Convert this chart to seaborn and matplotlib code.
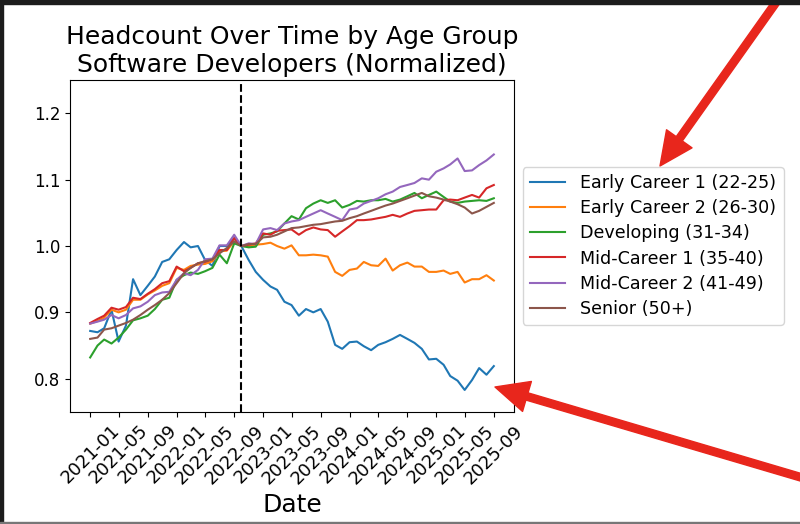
import numpy as np
import pandas as pd
import seaborn as sns
import matplotlib.pyplot as plt
import matplotlib.dates as mdates
from matplotlib.patches import Rectangle

# monthly headcount, normalized to 2022-10
dates = pd.date_range("2021-01-01", periods=57, freq="MS")
cutoff = "2022-10-01"

groups = [
    "Early Career 1 (22-25)",
    "Early Career 2 (26-30)",
    "Developing (31-34)",
    "Mid-Career 1 (35-40)",
    "Mid-Career 2 (41-49)",
    "Senior (50+)",
]

early1 = [0.872, 0.870, 0.876, 0.904, 0.856, 0.880, 0.950, 0.926, 0.940, 0.954, 0.976,
          0.980, 0.994, 1.006, 0.998, 1.000, 0.979, 0.970, 1.000, 1.000, 1.012, 1.000,
          0.979, 0.961, 0.949, 0.939, 0.934, 0.916, 0.911, 0.895, 0.905, 0.900, 0.905,
          0.886, 0.851, 0.845, 0.855, 0.856, 0.849, 0.843, 0.851, 0.855, 0.860, 0.866,
          0.860, 0.854, 0.845, 0.829, 0.830, 0.821, 0.804, 0.797, 0.783, 0.798, 0.816,
          0.806, 0.819]
early2 = [0.883, 0.887, 0.892, 0.904, 0.900, 0.904, 0.919, 0.919, 0.927, 0.933, 0.940,
          0.944, 0.967, 0.964, 0.970, 0.972, 0.973, 0.977, 0.992, 0.993, 1.007, 1.000,
          1.000, 1.002, 1.003, 1.005, 1.000, 0.996, 1.001, 0.986, 0.986, 0.987, 0.986,
          0.984, 0.961, 0.955, 0.964, 0.966, 0.976, 0.971, 0.970, 0.981, 0.963, 0.971,
          0.975, 0.969, 0.969, 0.961, 0.961, 0.963, 0.958, 0.961, 0.945, 0.950, 0.950,
          0.956, 0.948]
developing = [0.832, 0.850, 0.859, 0.853, 0.862, 0.874, 0.888, 0.891, 0.895, 0.905, 0.919,
              0.922, 0.949, 0.956, 0.960, 0.958, 0.962, 0.967, 0.987, 0.974, 1.004, 1.000,
              0.998, 0.999, 1.017, 1.019, 1.022, 1.034, 1.045, 1.040, 1.057, 1.064, 1.069,
              1.065, 1.069, 1.058, 1.062, 1.068, 1.067, 1.069, 1.069, 1.071, 1.067, 1.070,
              1.075, 1.080, 1.072, 1.077, 1.082, 1.074, 1.067, 1.065, 1.067, 1.068, 1.069,
              1.068, 1.072]
mid1 = [0.884, 0.890, 0.895, 0.907, 0.904, 0.908, 0.922, 0.920, 0.928, 0.935, 0.944,
        0.947, 0.969, 0.962, 0.967, 0.974, 0.976, 0.980, 0.994, 0.994, 1.012, 1.000,
        1.002, 1.004, 1.019, 1.017, 1.023, 1.024, 1.025, 1.017, 1.024, 1.028, 1.025,
        1.024, 1.014, 1.022, 1.030, 1.039, 1.039, 1.040, 1.042, 1.044, 1.047, 1.044,
        1.049, 1.053, 1.054, 1.055, 1.055, 1.069, 1.070, 1.069, 1.073, 1.077, 1.073,
        1.087, 1.092]
mid2 = [0.883, 0.886, 0.889, 0.896, 0.891, 0.896, 0.906, 0.909, 0.916, 0.926, 0.930,
        0.931, 0.949, 0.959, 0.956, 0.964, 0.980, 0.981, 1.001, 1.001, 1.017, 1.000,
        1.004, 1.003, 1.025, 1.027, 1.024, 1.034, 1.037, 1.039, 1.044, 1.049, 1.054,
        1.049, 1.044, 1.039, 1.055, 1.057, 1.064, 1.068, 1.072, 1.078, 1.082, 1.089,
        1.092, 1.095, 1.102, 1.100, 1.112, 1.117, 1.123, 1.132, 1.113, 1.114, 1.122,
        1.129, 1.138]
senior = [0.860, 0.862, 0.874, 0.876, 0.880, 0.884, 0.889, 0.896, 0.904, 0.911, 0.919,
          0.929, 0.944, 0.959, 0.967, 0.974, 0.977, 0.980, 0.989, 0.997, 1.007, 1.000,
          1.003, 1.003, 1.013, 1.014, 1.017, 1.022, 1.027, 1.028, 1.030, 1.032, 1.033,
          1.035, 1.037, 1.038, 1.042, 1.045, 1.049, 1.053, 1.057, 1.061, 1.064, 1.068,
          1.072, 1.076, 1.080, 1.075, 1.073, 1.070, 1.067, 1.063, 1.058, 1.049, 1.053,
          1.059, 1.065]

series = [early1, early2, developing, mid1, mid2, senior]
df = pd.concat(
    [pd.DataFrame({"date": dates, "value": vals, "group": g}) for g, vals in zip(groups, series)],
    ignore_index=True,
)

fig = plt.figure(figsize=(8, 5.24), dpi=100)
ax = fig.add_axes([0.0875, 0.214, 0.555, 0.633])

sns.lineplot(data=df, x="date", y="value", hue="group", hue_order=groups,
             palette="tab10", linewidth=1.5, ax=ax)
ax.axvline(pd.Timestamp(cutoff), color="black", linestyle="--", linewidth=1.5)

ax.set_ylim(0.75, 1.25)
ax.set_yticks([0.8, 0.9, 1.0, 1.1, 1.2])
ax.xaxis.set_major_locator(mdates.MonthLocator(bymonth=[1, 5, 9]))
ax.xaxis.set_major_formatter(mdates.DateFormatter("%Y-%m"))
ax.tick_params(axis="x", labelsize=13, rotation=45)
ax.tick_params(axis="y", labelsize=12)
ax.set_xlabel("Date", fontsize=18)
ax.set_ylabel("")
ax.set_title("Headcount Over Time by Age Group\nSoftware Developers (Normalized)", fontsize=18)

sns.move_legend(ax, "center left", bbox_to_anchor=(1.0, 0.5), title=None,
                fontsize=12.6, labelspacing=0.41, handletextpad=0.9)

# red annotation arrows over the whole picture
arrow = dict(arrowstyle="simple,head_length=0.8,head_width=0.75,tail_width=0.18",
             color="#e8261c", mutation_scale=30, shrinkA=0, shrinkB=0)
ax.annotate("", xy=(660, 524 - 166), xytext=(782, 530), xycoords="figure pixels",
            textcoords="figure pixels", arrowprops=arrow, annotation_clip=False)
ax.annotate("", xy=(495, 524 - 387), xytext=(810, 524 - 480), xycoords="figure pixels",
            textcoords="figure pixels", arrowprops=arrow, annotation_clip=False)

# screenshot frame
fig.patches.append(Rectangle((0, 1 - 4 / 524), 1, 4 / 524, transform=fig.transFigure, color="#1c1c1c"))
fig.patches.append(Rectangle((0, 0), 3 / 800, 1, transform=fig.transFigure, color="#1c1c1c"))
fig.patches.append(Rectangle((0, 0), 1, 2 / 524, transform=fig.transFigure, color="#777777"))

fig.savefig("out.png", dpi=100)
